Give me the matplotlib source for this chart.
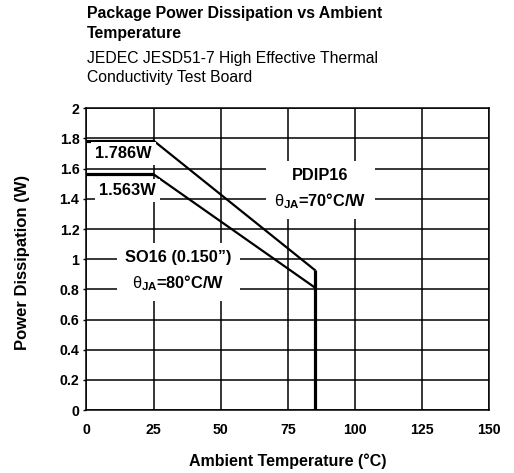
import matplotlib
matplotlib.use("Agg")
import matplotlib.pyplot as plt

plt.rcParams["font.family"] = ["Liberation Sans", "DejaVu Sans"]
plt.rcParams["mathtext.fontset"] = "custom"
plt.rcParams["mathtext.rm"] = "Liberation Sans"
plt.rcParams["mathtext.it"] = "Liberation Sans"  # keep theta upright
plt.rcParams["mathtext.bf"] = "Liberation Sans:bold"

# derating curves: flat to 25 C, then linear down to 85 C, then drop to zero
pdip_temp = [0, 25, 85, 85]
pdip_power = [1.786, 1.786, 0.929, 0.0]
so16_temp = [0, 25, 85, 85]
so16_power = [1.563, 1.563, 0.813, 0.0]

x_ticks = [0, 25, 50, 75, 100, 125, 150]
y_ticks = [0, 0.2, 0.4, 0.6, 0.8, 1.0, 1.2, 1.4, 1.6, 1.8, 2.0]
y_ticklabels = ["0", "0.2", "0.4", "0.6", "0.8", "1", "1.2", "1.4", "1.6", "1.8", "2"]

fig = plt.figure(figsize=(5.14, 4.73), dpi=100)
ax = fig.add_axes([0.168, 0.133, 0.784, 0.638])

ax.set_xlim(0, 150)
ax.set_ylim(0, 2)
ax.set_xticks(x_ticks)
ax.set_yticks(y_ticks)
ax.set_xticklabels([str(t) for t in x_ticks], fontsize=10.2, fontweight="bold")
ax.set_yticklabels(y_ticklabels, fontsize=10.2, fontweight="bold")
ax.tick_params(axis="y", length=2.5, width=1.0, pad=2.5, direction="out")
ax.tick_params(axis="x", length=0, pad=9)
ax.grid(True, color="black", linewidth=1.1)
ax.set_axisbelow(True)
for s in ax.spines.values():
    s.set_linewidth(1.1)

# horizontal parts drawn a bit heavier, like the datasheet
ax.plot(pdip_temp[:2], pdip_power[:2], color="black", lw=2.3, solid_capstyle="butt", zorder=3)
ax.plot(so16_temp[:2], so16_power[:2], color="black", lw=2.3, solid_capstyle="butt", zorder=3)
ax.plot(pdip_temp[1:3], pdip_power[1:3], color="black", lw=1.6, zorder=3)
ax.plot(so16_temp[1:3], so16_power[1:3], color="black", lw=1.6, zorder=3)
ax.plot(pdip_temp[2:], pdip_power[2:], color="black", lw=2.3, solid_capstyle="butt", zorder=3)

theta70 = r"$\theta_{\mathbf{JA}}$" + "=70\u00b0C/W"
theta80 = r"$\theta_{\mathbf{JA}}$" + "=80\u00b0C/W"

lbl = dict(fontsize=11.8, fontweight="bold", ha="center", va="center", zorder=4)
ax.text(13.8, 1.70, "1.786W", bbox=dict(facecolor="white", edgecolor="none", pad=3), **lbl)
ax.text(15.3, 1.457, "1.563W", bbox=dict(facecolor="white", edgecolor="none", pad=3), **lbl)
ax.text(34.2, 0.92, "SO16 (0.150\u201d)\n" + theta80, linespacing=1.55, multialignment="center",
        bbox=dict(facecolor="white", edgecolor="none", pad=6), **lbl)
ax.text(87, 1.465, "PDIP16\n" + theta70, linespacing=1.55, multialignment="center",
        bbox=dict(facecolor="white", edgecolor="none", pad=6), **lbl)

ax.set_xlabel("Ambient Temperature (\u00b0C)", fontsize=11.5, fontweight="bold")
ax.set_ylabel("Power Dissipation (W)", fontsize=12, fontweight="bold")
ax.xaxis.set_label_coords(0.5, -0.142)
ax.yaxis.set_label_coords(-0.141, 0.488)

fig.text(0.169, 0.962, "Package Power Dissipation vs Ambient", fontsize=11.4, fontweight="bold",
         ha="left", va="baseline")
fig.text(0.169, 0.920, "Temperature", fontsize=11.4, fontweight="bold", ha="left", va="baseline")
fig.text(0.169, 0.867, "JEDEC JESD51-7 High Effective Thermal", fontsize=11.3, ha="left", va="baseline")
fig.text(0.169, 0.827, "Conductivity Test Board", fontsize=11.3, ha="left", va="baseline")

fig.savefig("out.png", dpi=100)
